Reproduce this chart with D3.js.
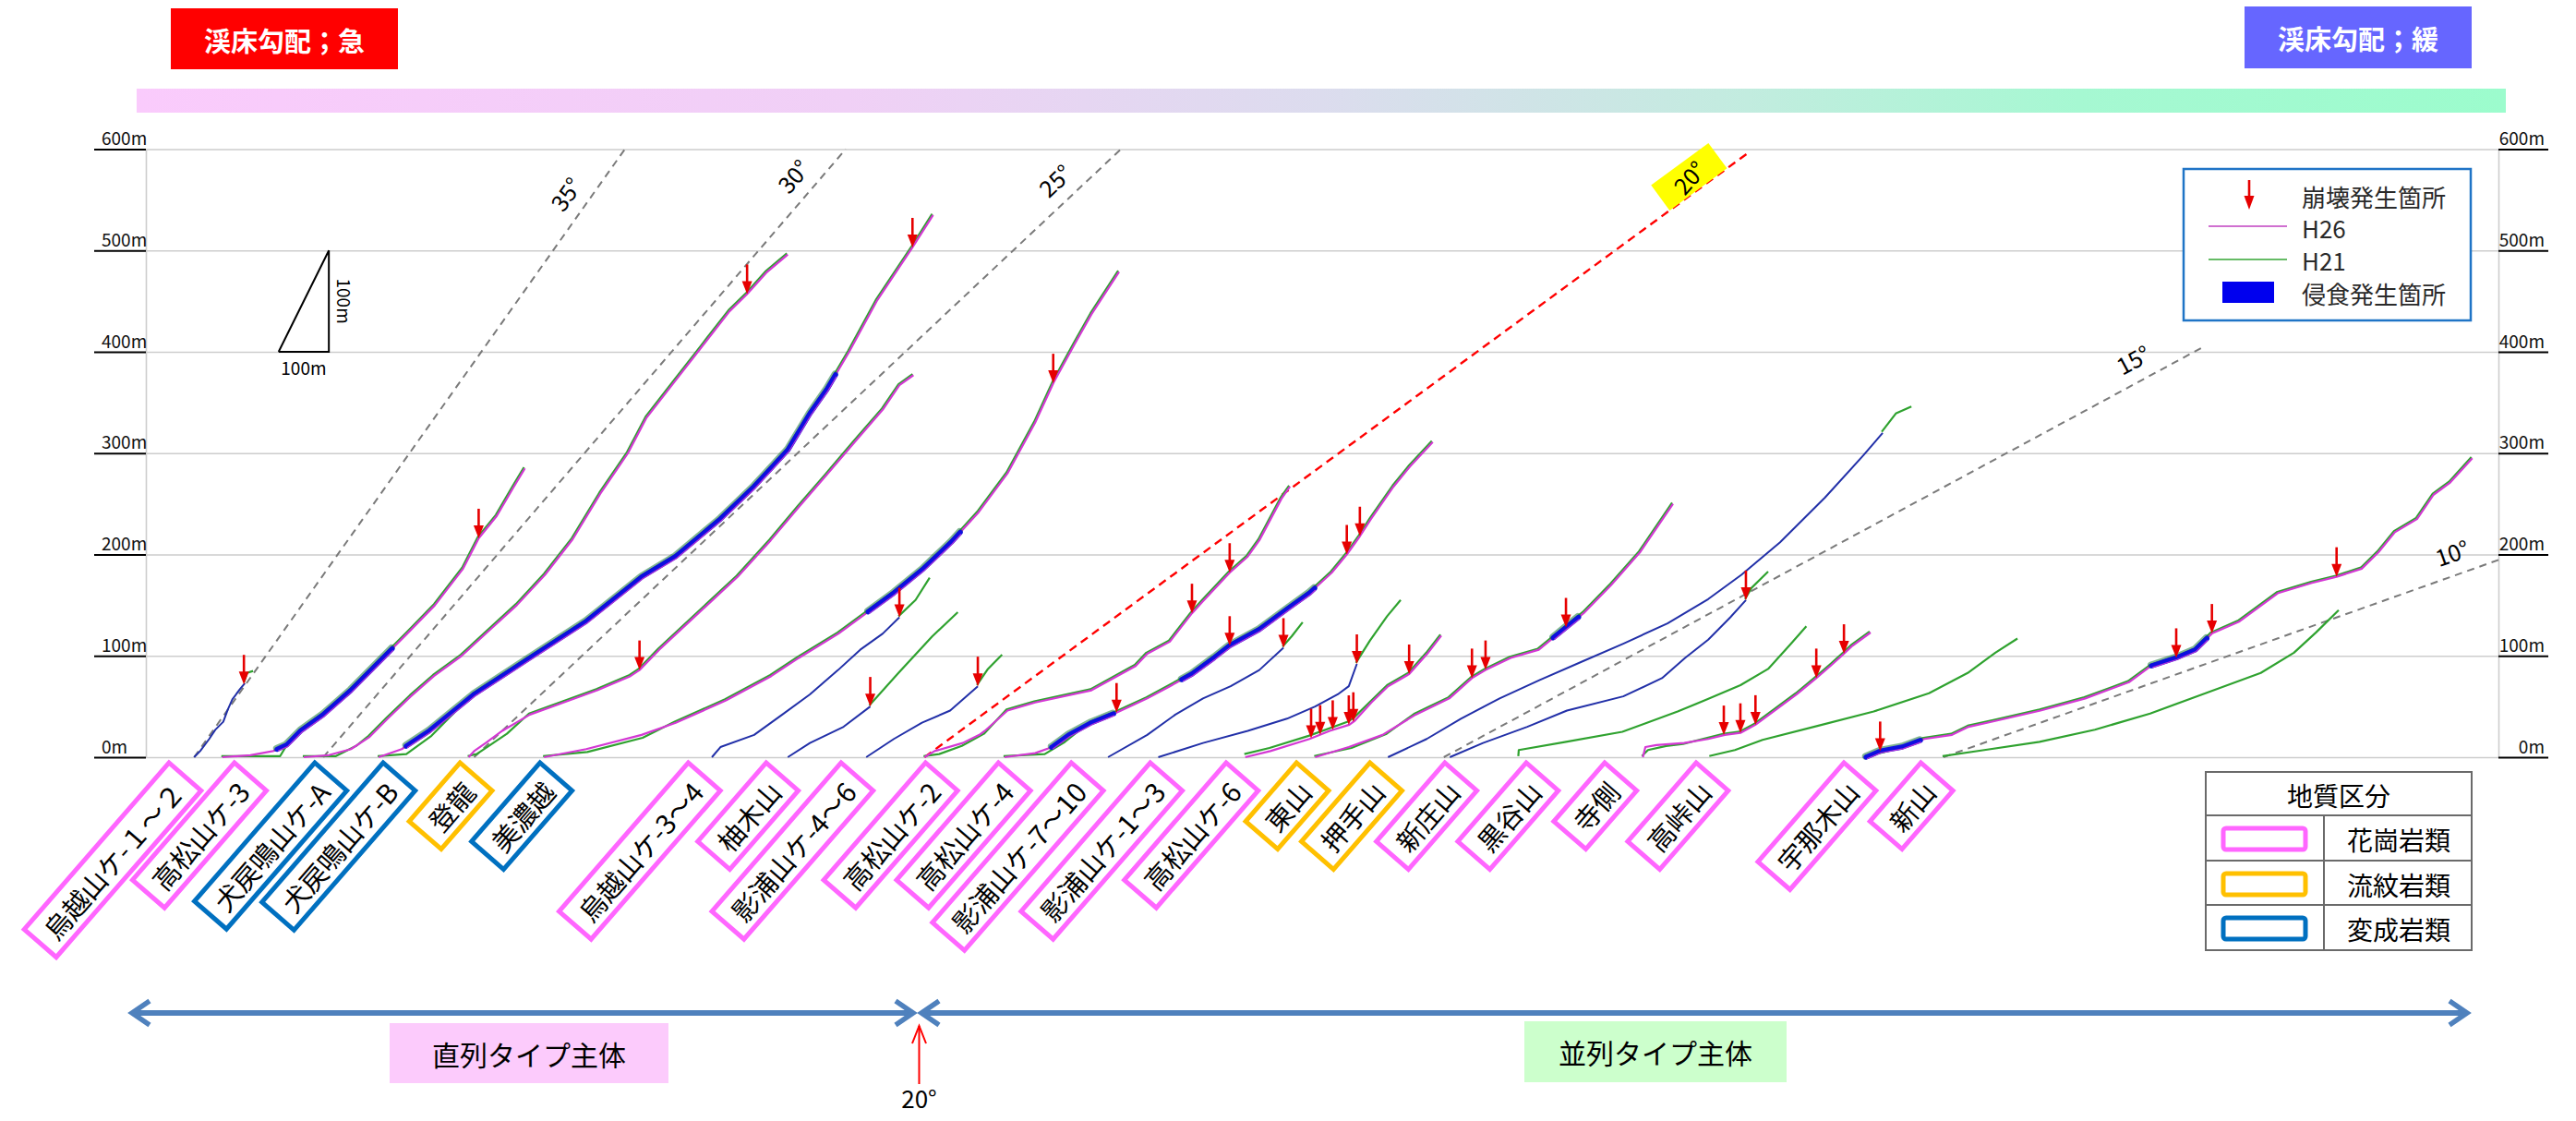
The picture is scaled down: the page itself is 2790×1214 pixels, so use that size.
<!DOCTYPE html>
<html><head><meta charset="utf-8">
<script src="https://cdn.jsdelivr.net/npm/d3@7"></script>
<style>
body{margin:0;background:#fff;}
svg text{font-family:"Noto Sans CJK JP","Noto Sans",sans-serif;}
</style></head><body>
<svg id="chart" width="2790" height="1214"></svg>
<script>
// ---------------- data ----------------
// elevation axis (m)
const yTicks = [0, 100, 200, 300, 400, 500, 600];

// reference gradient lines: angle, foot position (m along the section), top elevation, label elevation
const slopeDeg   = [35, 30, 25, 20, 15, 10];
const slopeFrom  = [96, 353, 653, 1549, 2582, 3576];
const slopeTop   = [600, 600, 600, 597, 404, 195];
const slopeLabel = [543, 559, 553, 560, 373, 181];

// longitudinal profiles: [horizontal distance m, elevation m]
const p01Blue = [[96,0],[108,6],[126,18],[138,27],[154,35],[163,47],[172,57],[187,67],[197,73]];
const p01H21  = [[197,73],[203,82],[215,84]];
const p01Arrows = [195];

const p02H26 = [[152,0],[208,2],[253,6],[280,12],[308,26],[353,42],[408,66],[464,94],[520,122],[575,150],[631,186],[662,216],[698,238],[731,266],[754,285]];
const p02H21 = [[152,0],[269,0],[286,14],[308,26], ...p02H26.slice(5)];
const p02Erosion = [[261,490]];
const p02Arrows = [662];

const p03H26 = [[314,0],[364,2],[408,8],[445,20],[481,38],[527,60],[573,80],[628,100],[683,125],[738,150],[794,180],[849,215],[904,260],[959,300],[996,335],[1051,370],[1106,405],[1161,440],[1196,457],[1234,478],[1277,496]];
const p03H21 = [[314,0],[380,0],[420,10], ...p03H26.slice(3)];
const p03Arrows = [1196];

const p04H26 = [[463,0],[509,8],[564,26],[653,62],[764,98],[876,134],[987,178],[1054,198],[1143,235],[1210,267],[1277,303],[1321,339],[1355,363],[1399,400],[1455,451],[1525,503],[1566,535]];
const p04H21 = [[463,0],[520,2],[570,20], ...p04H26.slice(3)];
const p04Erosion = [[518,1372]];
const p04Arrows = [1525];

const p05H26 = [[642,0],[653,6],[676,14],[709,26],[764,42],[831,54],[898,66],[964,80],[982,86],[1021,106],[1099,142],[1177,178],[1243,214],[1299,247],[1355,279],[1410,311],[1466,343],[1499,367],[1527,377]];
const p05H21 = [[642,0],[660,2],[690,12],[720,22], ...p05H26.slice(4)];
const p05Arrows = [982];

const p06H26 = [[792,0],[876,8],[986,22],[1054,34],[1154,56],[1244,80],[1299,98],[1378,122],[1433,142],[1488,162],[1547,186],[1602,212],[1657,242],[1714,280],[1769,330],[1806,370],[1848,408],[1881,437],[1936,479]];
const p06H21 = [[792,0],[880,4],[990,18], ...p06H26.slice(3)];
const p06Erosion = [[1437,1620]];
const p06Arrows = [1805];

const p07Blue = [[1126,0],[1143,10],[1210,22],[1266,42],[1321,62],[1377,86],[1421,106],[1466,122],[1499,138]];
const p07H21  = [[1499,138],[1533,154],[1561,176]];
const p07Arrows = [1499];

const p08Blue = [[1277,0],[1321,14],[1388,30],[1441,50]];
const p08H21  = [[1441,50],[1499,82],[1566,118],[1617,142]];
const p08Arrows = [1441];

const p09Blue = [[1433,0],[1488,18],[1544,34],[1600,46],[1655,70]];
const p09H21  = [[1655,70],[1677,86],[1705,100]];
const p09Arrows = [1655];

const p10H26 = [[1549,0],[1569,6],[1625,14],[1658,22],[1669,26],[1714,46],[1769,54],[1881,66],[1969,90],[1992,102],[2037,114],[2081,142],[2103,154],[2156,182],[2192,198],[2215,214],[2259,255],[2276,267]];
const p10H21 = [[1549,0],[1580,2],[1625,10],[1669,22], ...p10H26.slice(5)];
const p10Arrows = [2081, 2156];

const p11H26 = [[1708,0],[1769,4],[1803,10],[1836,22],[1881,34],[1931,44],[1992,58],[2037,70],[2081,82],[2125,98],[2156,110],[2215,126],[2270,146],[2315,162],[2359,182],[2389,200],[2415,218],[2437,235],[2482,267],[2515,287],[2560,311]];
const p11H21 = [[1708,0],[1790,2],[1830,14], ...p11H26.slice(4)];
const p11Erosion = [[1802,1925],[2061,2325]];
const p11Arrows = [1931, 2156, 2389, 2415];

const p12Blue = [[1914,0],[1992,22],[2048,42],[2103,58],[2158,70],[2215,86],[2263,108]];
const p12H21  = [[2263,108],[2281,118],[2303,132]];
const p12Arrows = [2263];

const p13Blue = [[2014,0],[2103,14],[2192,26],[2270,38],[2326,50],[2371,62],[2393,70],[2409,92]];
const p13H21  = [[2409,92],[2437,114],[2471,138],[2498,154]];
const p13Arrows = [2409];

const p14H26 = [[2187,0],[2237,6],[2315,18],[2355,26],[2394,32],[2405,36],[2438,54],[2471,70],[2513,82],[2549,102],[2577,120]];
const p14H21 = [[2187,2],[2237,8],[2315,20],[2393,34],[2405,38], ...p14H26.slice(6)];
const p14Arrows = [2318, 2336, 2361, 2393, 2402, 2513];

const p15H26 = [[2326,0],[2393,10],[2460,22],[2526,42],[2593,58],[2638,78],[2665,86],[2715,98],[2771,106],[2825,128],[2860,142],[2915,170],[2972,202],[3038,250]];
const p15H21 = [[2326,0],[2400,8],[2470,22], ...p15H26.slice(3)];
const p15Erosion = [[2800,2850]];
const p15Arrows = [2638, 2665, 2825];

const p16Blue = [[2471,0],[2548,18],[2616,38],[2693,58],[2772,76],[2860,95],[2939,112],[3027,132],[3108,156],[3174,180],[3251,212],[3340,256],[3417,298],[3455,320]];
const p16H21  = [[3455,320],[3483,338],[3514,345]];

const p17Blue = [[2594,0],[2660,14],[2748,30],[2827,46],[2939,60],[3016,78],[3062,98],[3108,116],[3152,138],[3183,155]];
const p17H21  = [[3183,155],[3196,166],[3229,182]];
const p17Arrows = [3183];

const p18H21 = [[2732,0],[2733,6],[2827,14],[2939,24],[3049,44],[3108,56],[3174,70],[3229,86],[3273,110],[3305,128]];

const p19H26 = [[2978,0],[2983,10],[3005,12],[3060,14],[3108,18],[3141,22],[3172,24],[3202,32],[3240,46],[3284,62],[3323,78],[3351,90],[3378,102],[3395,110],[3431,123]];
const p19H21 = [[2978,0],[2990,6],[3026,10],[3060,12], ...p19H26.slice(4)];
const p19Arrows = [3139, 3172, 3202, 3323, 3378];

const p20H21 = [[3112,0],[3163,6],[3218,16],[3329,30],[3439,44],[3549,62],[3626,82],[3681,102],[3725,116]];

const p21H26 = [[3422,0],[3450,6],[3494,10],[3538,18],[3593,22],[3626,30],[3681,36],[3769,46],[3858,58],[3945,74],[3989,90],[4039,98],[4077,106],[4110,122],[4165,134],[4242,162],[4309,172],[4358,178],[4408,186],[4441,202],[4474,222],[4518,235],[4551,259],[4584,271],[4628,295]];
const p21H21 = [[3422,0],[3460,4],[3500,10], ...p21H26.slice(3)];
const p21Erosion = [[3422,3530],[3990,4100]];
const p21Arrows = [3450, 4039, 4110, 4358];

const p22H21 = [[3576,0],[3659,6],[3769,14],[3879,26],[3989,42],[4099,62],[4209,82],[4275,102],[4319,122],[4364,144]];

// stream names, geology class and station (m) of each name tag
const siteNames = ["烏越山ケ-１～２","高松山ケ-3","犬戻鳴山ケ-A","犬戻鳴山ケ-B","登龍","美濃越","烏越山ケ-3～4","柚木山","影浦山ケ-4～6","高松山ケ-2","高松山ケ-4","影浦山ケ-7～10","影浦山ケ-1～3","高松山ケ-6","東山","押手山","新庄山","黒谷山","寺側","高峠山","宇那木山","新山"];
const siteRock  = ["g","g","m","m","r","m","g","g","g","g","g","g","g","g","r","r","g","g","g","g","g","g"];
const siteAt    = [46,176,336,472,625,784,1079,1234,1383,1551,1696,1841,1998,2149,2289,2435,2584,2746,2902,3084,3378,3531];

const rockNames  = ["花崗岩類","流紋岩類","変成岩類"];
const rockKeys   = ["g","r","m"];
const rockColors = {g:"#ff66ff", r:"#ffc000", m:"#0070c0"};

// ---------------- drawing ----------------
const svg = d3.select("#chart");
const x = d3.scaleLinear().domain([0, 4680]).range([158, 2706]);
const y = d3.scaleLinear().domain([0, 600]).range([820, 161.5]);
const path = d3.line().x(d => x(d[0])).y(d => y(d[1]));

const C_H26 = "#d438d4", C_H21 = "#2fa22f", C_BLUE = "#2230a8", C_ERO = "#0a0ae6", C_RED = "#e60000";

// headline boxes
svg.append("rect").attr("x",185).attr("y",9).attr("width",246).attr("height",66).attr("fill","#ff0000");
svg.append("text").attr("x",308).attr("y",43).attr("text-anchor","middle").attr("dominant-baseline","central")
  .attr("fill","#fff").attr("font-size",29).attr("font-weight","bold").text("渓床勾配；急");
svg.append("rect").attr("x",2431).attr("y",7).attr("width",246).attr("height",67).attr("fill","#6666ff");
svg.append("text").attr("x",2554).attr("y",41).attr("text-anchor","middle").attr("dominant-baseline","central")
  .attr("fill","#fff").attr("font-size",29).attr("font-weight","bold").text("渓床勾配；緩");

// gradient band
const defs = svg.append("defs");
const gr = defs.append("linearGradient").attr("id","band").attr("x1","0%").attr("x2","100%");
[["0%","#facbfc"],["30%","#f0d0f6"],["50%","#dcdcee"],["68%","#c2ecdf"],["82%","#a6f8d2"],["100%","#9cfccd"]]
  .forEach(s => gr.append("stop").attr("offset",s[0]).attr("stop-color",s[1]));
svg.append("rect").attr("x",148).attr("y",96).attr("width",2566).attr("height",26).attr("fill","url(#band)");

// grid
const grid = svg.append("g").attr("transform",`translate(${x(0)},0)`)
  .call(d3.axisRight(y).tickValues(yTicks).tickSize(x(4680)-x(0)).tickFormat(""));
grid.select(".domain").remove();
grid.selectAll(".tick line").attr("stroke","#cdcdcd").attr("stroke-width",1.6);

// left / right elevation axes
const axL = svg.append("g").attr("transform",`translate(${x(0)},0)`)
  .call(d3.axisLeft(y).tickValues(yTicks).tickSize(56).tickSizeOuter(0).tickFormat(d => d + "m"));
const axR = svg.append("g").attr("transform",`translate(${x(4680)},0)`)
  .call(d3.axisRight(y).tickValues(yTicks).tickSize(54).tickSizeOuter(0).tickFormat(d => d + "m"));
[axL, axR].forEach(a => {
  a.select(".domain").attr("stroke","#cdcdcd").attr("stroke-width",1.6);
  a.selectAll(".tick line").attr("stroke","#000").attr("stroke-width",2);
  a.selectAll(".tick text").attr("font-family","'Liberation Sans Narrow','Liberation Sans',sans-serif")
    .attr("font-size",19).attr("fill","#111").attr("dy",0).attr("y",-5);
});
axL.selectAll(".tick text").attr("text-anchor","start").attr("x",-48);
axR.selectAll(".tick text").attr("text-anchor","end").attr("x",50);

// scale triangle (100m x 100m)
const tri = svg.append("g");
tri.append("path").attr("d", d3.line()([[x(264),y(400)],[x(364),y(400)],[x(364),y(500)],[x(264),y(400)]]))
  .attr("fill","none").attr("stroke","#000").attr("stroke-width",2);
tri.append("text").attr("x",(x(264)+x(364))/2).attr("y",y(400)+16).attr("text-anchor","middle")
  .attr("dominant-baseline","central").attr("font-size",19)
  .attr("font-family","'Liberation Sans Narrow','Liberation Sans',sans-serif").text("100m");
tri.append("text").attr("transform",`translate(${x(364)+17},${(y(400)+y(500))/2}) rotate(90)`)
  .attr("text-anchor","middle").attr("dominant-baseline","central").attr("font-size",19)
  .attr("font-family","'Liberation Sans Narrow','Liberation Sans',sans-serif").text("100m");

// reference gradient lines
const pxSlope = deg => (y(0) - y(Math.tan(deg*Math.PI/180)*100)) / (x(100) - x(0));
const slopeG = svg.append("g");
slopeDeg.forEach((deg, i) => {
  const t = Math.tan(deg*Math.PI/180);
  const red = deg === 20;
  slopeG.append("line")
    .attr("x1",x(slopeFrom[i])).attr("y1",y(0))
    .attr("x2",x(slopeFrom[i] + slopeTop[i]/t)).attr("y2",y(slopeTop[i]))
    .attr("stroke", red ? "#ff0000" : "#7a7a7a").attr("stroke-width", red ? 2.4 : 2)
    .attr("stroke-dasharray", red ? "9,6" : "8,6");
  const a = Math.atan(pxSlope(deg));
  const px = x(slopeFrom[i] + slopeLabel[i]/t), py = y(slopeLabel[i]);
  const off = red ? 17 : 25;
  const cx = px - off*Math.sin(a), cy = py - off*Math.cos(a);
  const adeg = a*180/Math.PI;
  if (red) {
    slopeG.append("rect").attr("x",-38).attr("y",-17).attr("width",77).attr("height",34).attr("fill","#ffff00")
      .attr("transform",`translate(${cx},${cy}) rotate(${-adeg})`);
    slopeG.append("text").attr("transform",`translate(${cx},${cy}) rotate(${-adeg-12})`)
      .attr("text-anchor","middle").attr("dominant-baseline","central").attr("font-size",25)
      .attr("font-family","'Liberation Sans',sans-serif").text(deg + "°");
  } else {
    slopeG.append("text").attr("transform",`translate(${cx},${cy}) rotate(${-adeg})`)
      .attr("text-anchor","middle").attr("dominant-baseline","central").attr("font-size",25)
      .attr("font-family","'Liberation Sans',sans-serif").text(deg + "°");
  }
});

// profile table built from the arrays above
const profiles = [
  {blue:p01Blue, h21:p01H21, arrows:p01Arrows},
  {h26:p02H26, h21:p02H21, erosion:p02Erosion, arrows:p02Arrows},
  {h26:p03H26, h21:p03H21, arrows:p03Arrows},
  {h26:p04H26, h21:p04H21, erosion:p04Erosion, arrows:p04Arrows},
  {h26:p05H26, h21:p05H21, arrows:p05Arrows},
  {h26:p06H26, h21:p06H21, erosion:p06Erosion, arrows:p06Arrows},
  {blue:p07Blue, h21:p07H21, arrows:p07Arrows},
  {blue:p08Blue, h21:p08H21, arrows:p08Arrows},
  {blue:p09Blue, h21:p09H21, arrows:p09Arrows},
  {h26:p10H26, h21:p10H21, arrows:p10Arrows},
  {h26:p11H26, h21:p11H21, erosion:p11Erosion, arrows:p11Arrows},
  {blue:p12Blue, h21:p12H21, arrows:p12Arrows},
  {blue:p13Blue, h21:p13H21, arrows:p13Arrows},
  {h26:p14H26, h21:p14H21, arrows:p14Arrows},
  {h26:p15H26, h21:p15H21, erosion:p15Erosion, arrows:p15Arrows},
  {blue:p16Blue, h21:p16H21},
  {blue:p17Blue, h21:p17H21, arrows:p17Arrows},
  {h21:p18H21},
  {h26:p19H26, h21:p19H21, arrows:p19Arrows},
  {h21:p20H21},
  {h26:p21H26, h21:p21H21, erosion:p21Erosion, arrows:p21Arrows},
  {h21:p22H21}
];

function elevAt(pts, m) {
  for (let i = 1; i < pts.length; i++) {
    const a = pts[i-1], b = pts[i];
    if (m >= a[0] && m <= b[0]) {
      const f = b[0] === a[0] ? 0 : (m - a[0]) / (b[0] - a[0]);
      return a[1] + f*(b[1] - a[1]);
    }
  }
  return null;
}
function subPath(pts, m1, m2) {
  const out = [[m1, elevAt(pts, m1)]];
  pts.forEach(p => { if (p[0] > m1 && p[0] < m2) out.push(p); });
  out.push([m2, elevAt(pts, m2)]);
  return out;
}

const gH21 = svg.append("g").attr("transform","translate(-1,-1.2)");
const gH26 = svg.append("g");
const gEro = svg.append("g");
const gBlue = svg.append("g");
const gArr = svg.append("g");

profiles.forEach(p => {
  if (p.h21) gH21.append("path").attr("d", path(p.h21)).attr("fill","none")
    .attr("stroke",C_H21).attr("stroke-width",2.2).attr("stroke-linejoin","round");
  if (p.h26) gH26.append("path").attr("d", path(p.h26)).attr("fill","none")
    .attr("stroke",C_H26).attr("stroke-width",2.2).attr("stroke-linejoin","round");
  if (p.erosion) p.erosion.forEach(s => {
    const seg = subPath(p.h26, s[0], s[1]);
    gEro.append("path").attr("d", path(seg)).attr("fill","none").attr("stroke","#1a7a3a")
      .attr("stroke-width",7).attr("stroke-linecap","round").attr("stroke-linejoin","round")
      .attr("transform","translate(-0.8,-1)").attr("opacity",0.55);
    gEro.append("path").attr("d", path(seg)).attr("fill","none").attr("stroke",C_ERO)
      .attr("stroke-width",5.5).attr("stroke-linecap","round").attr("stroke-linejoin","round").attr("opacity",0.95);
    gEro.append("path").attr("d", path(seg)).attr("fill","none").attr("stroke",C_H26)
      .attr("stroke-width",1.2).attr("transform","translate(1,1.8)").attr("opacity",0.85);
  });
  if (p.blue) gBlue.append("path").attr("d", path(p.blue)).attr("fill","none")
    .attr("stroke",C_BLUE).attr("stroke-width",2).attr("stroke-linejoin","round");
  if (p.arrows) p.arrows.forEach(m => {
    let e = null;
    [p.h26, p.blue, p.h21].forEach(arr => { if (e === null && arr) e = elevAt(arr, m); });
    const ax = x(m), ay = y(e);
    gArr.append("line").attr("x1",ax).attr("x2",ax).attr("y1",ay-32).attr("y2",ay-11)
      .attr("stroke",C_RED).attr("stroke-width",2.6);
    gArr.append("path").attr("d", d3.line()([[ax-5.5,ay-14],[ax+5.5,ay-14],[ax,ay]]) + "Z").attr("fill",C_RED);
  });
});

// legend (profile symbols)
const lg = svg.append("g");
lg.append("rect").attr("x",2365).attr("y",183).attr("width",311).attr("height",164)
  .attr("fill","#fff").attr("stroke","#1f74c6").attr("stroke-width",2.5);
lg.append("line").attr("x1",2436).attr("x2",2436).attr("y1",195).attr("y2",215).attr("stroke",C_RED).attr("stroke-width",2.6);
lg.append("path").attr("d", d3.line()([[2430.5,212],[2441.5,212],[2436,227]]) + "Z").attr("fill",C_RED);
lg.append("line").attr("x1",2392).attr("x2",2477).attr("y1",245).attr("y2",245).attr("stroke","#d070d0").attr("stroke-width",2);
lg.append("line").attr("x1",2392).attr("x2",2477).attr("y1",281).attr("y2",281).attr("stroke","#66bb66").attr("stroke-width",2);
lg.append("rect").attr("x",2407).attr("y",305).attr("width",56).attr("height",23).attr("fill","#0000ee");
[["崩壊発生箇所",212],["H26",246],["H21",281],["侵食発生箇所",317]].forEach(t => {
  lg.append("text").attr("x",2493).attr("y",t[1]).attr("dominant-baseline","central")
    .attr("font-size",26).attr("fill","#2a2a2a").text(t[0]);
});

// geology key table
const tb = svg.append("g").attr("stroke","#6a6a6a").attr("stroke-width",2);
tb.append("rect").attr("x",2389).attr("y",836).attr("width",288).attr("height",193).attr("fill","#fff");
[883, 932, 980].forEach(v => tb.append("line").attr("x1",2389).attr("x2",2677).attr("y1",v).attr("y2",v));
tb.append("line").attr("x1",2517).attr("x2",2517).attr("y1",883).attr("y2",1029);
svg.append("text").attr("x",2533).attr("y",861).attr("text-anchor","middle").attr("dominant-baseline","central")
  .attr("font-size",28).text("地質区分");
rockNames.forEach((n, i) => {
  const top = [883, 932, 980][i];
  svg.append("rect").attr("x",2408).attr("y",top+14).attr("width",89).attr("height",23).attr("rx",3)
    .attr("fill","#fff").attr("stroke",rockColors[rockKeys[i]]).attr("stroke-width",5);
  svg.append("text").attr("x",2598).attr("y",top+26).attr("text-anchor","middle").attr("dominant-baseline","central")
    .attr("font-size",28).text(n);
});

// stream name tags (tilted)
const tagAngle = -49, tagH = 46, tagPad = 13, tagTop = 826;
const ca = Math.cos(tagAngle*Math.PI/180), sa = Math.sin(tagAngle*Math.PI/180);
siteNames.forEach((name, i) => {
  const tx = x(siteAt[i]) + (tagH/2)*(-sa), ty = tagTop + (tagH/2)*ca;
  const g = svg.append("g").attr("transform",`translate(${tx},${ty}) rotate(${tagAngle})`);
  const rect = g.append("rect");
  const t = g.append("text").attr("x",-tagPad).attr("y",0).attr("text-anchor","end")
    .attr("dominant-baseline","central").attr("font-size",29).attr("fill","#000").text(name);
  const L = t.node().getComputedTextLength() + 2*tagPad;
  rect.attr("x",-L).attr("y",-tagH/2).attr("width",L).attr("height",tagH)
    .attr("fill","#fff").attr("stroke",rockColors[siteRock[i]]).attr("stroke-width",5);
});

// bottom: serial / parallel type arrows
function dblArrow(x1, x2, yy) {
  const g = svg.append("g").attr("stroke","#4f81bd").attr("fill","none").attr("stroke-linejoin","miter");
  g.append("line").attr("x1",x1+3).attr("x2",x2-3).attr("y1",yy).attr("y2",yy).attr("stroke-width",6);
  g.append("path").attr("d", d3.line()([[x1+21,yy-13],[x1+2,yy],[x1+21,yy+13]])).attr("stroke-width",5.5);
  g.append("path").attr("d", d3.line()([[x2-21,yy-13],[x2-2,yy],[x2-21,yy+13]])).attr("stroke-width",5.5);
}
dblArrow(141, 991, 1097);
dblArrow(996, 2674, 1097);

svg.append("line").attr("x1",995.5).attr("x2",995.5).attr("y1",1111).attr("y2",1174).attr("stroke","#ff0000").attr("stroke-width",2);
svg.append("path").attr("d", d3.line()([[988,1130],[995.5,1111],[1003,1130]])).attr("fill","none").attr("stroke","#ff0000").attr("stroke-width",2);
svg.append("text").attr("x",995.5).attr("y",1188).attr("text-anchor","middle").attr("dominant-baseline","central")
  .attr("font-size",26).attr("font-family","'Liberation Sans',sans-serif").text("20°");

svg.append("rect").attr("x",422).attr("y",1108).attr("width",302).attr("height",65).attr("fill","#fccbfc");
svg.append("text").attr("x",573).attr("y",1141).attr("text-anchor","middle").attr("dominant-baseline","central")
  .attr("font-size",30).text("直列タイプ主体");
svg.append("rect").attr("x",1651).attr("y",1106).attr("width",284).attr("height",66).attr("fill","#ccffcc");
svg.append("text").attr("x",1793).attr("y",1139).attr("text-anchor","middle").attr("dominant-baseline","central")
  .attr("font-size",30).text("並列タイプ主体");
</script>
</body></html>
